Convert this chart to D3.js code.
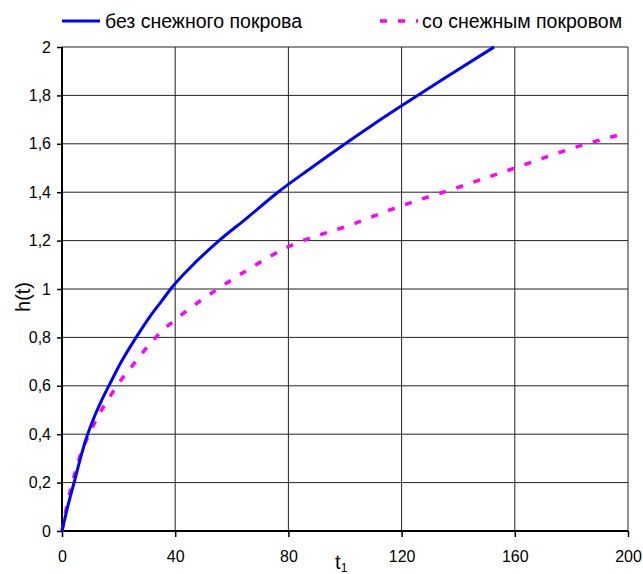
<!DOCTYPE html>
<html>
<head>
<meta charset="utf-8">
<script src="https://cdn.jsdelivr.net/npm/d3@7"></script>
<style>
  body { margin: 0; background: #fff; }
  text { font-family: "Liberation Sans", Arial, sans-serif; fill: #000; }
</style>
</head>
<body>
<svg width="643" height="574"></svg>
<script>
// series: без снежного покрова
var tNoSnow = [0, 2, 4.5, 6.5, 8.5, 11, 14, 17, 21, 26.2, 31, 35.2, 38.4, 45, 55.5, 65, 76.3, 88, 98.8, 110, 120, 135, 152.7];
var hNoSnow = [0, 0.1, 0.21, 0.3, 0.38, 0.46, 0.54, 0.61, 0.7, 0.8, 0.885, 0.95, 1.0, 1.085, 1.2, 1.29, 1.4, 1.5, 1.59, 1.68, 1.757, 1.87, 2.0];

// series: со снежным покровом
var tSnow = [0, 2, 4.6, 7, 10, 13, 16.4, 20, 24, 30.5, 35.2, 40.5, 45.8, 55, 65, 80, 101.8, 120, 140, 160, 185.4, 200];
var hSnow = [0, 0.12, 0.24, 0.33, 0.41, 0.48, 0.545, 0.61, 0.67, 0.765, 0.825, 0.877, 0.925, 1.0, 1.075, 1.175, 1.264, 1.344, 1.42, 1.5, 1.6, 1.646];

var xTicks = [0, 40, 80, 120, 160, 200];
var yTicks = [0, 0.2, 0.4, 0.6, 0.8, 1, 1.2, 1.4, 1.6, 1.8, 2];
var seriesNames = ["без снежного покрова", "со снежным покровом"];

var svg = d3.select("svg"),
    margin = {top: 47, right: 15, bottom: 43, left: 62},
    width = +svg.attr("width") - margin.left - margin.right,
    height = +svg.attr("height") - margin.top - margin.bottom;

var x = d3.scaleLinear().domain([0, 200]).range([0, width]);
var y = d3.scaleLinear().domain([0, 2]).range([height, 0]);

var g = svg.append("g")
    .attr("transform", "translate(" + margin.left + "," + margin.top + ")");

var fmt = function(d) { return String(d).replace(".", ","); };

// grid
g.append("g").selectAll("line")
    .data(yTicks)
    .enter().append("line")
        .attr("x1", 0).attr("x2", width)
        .attr("y1", function(d) { return y(d); })
        .attr("y2", function(d) { return y(d); })
        .attr("stroke", "#222").attr("stroke-width", 1);

g.append("g").selectAll("line")
    .data(xTicks)
    .enter().append("line")
        .attr("y1", 0).attr("y2", height)
        .attr("x1", function(d) { return x(d); })
        .attr("x2", function(d) { return x(d); })
        .attr("stroke", "#222").attr("stroke-width", 1);

// X axis
var xAxis = g.append("g")
    .attr("transform", "translate(0," + height + ")")
    .call(d3.axisBottom(x).tickValues(xTicks).tickSize(6).tickPadding(14).tickFormat(fmt));
xAxis.select(".domain").attr("stroke-width", 2).attr("d", "M0,0H" + width);
xAxis.selectAll(".tick line").attr("stroke-width", 1.5);
xAxis.selectAll("text").style("font-size", "16px");

// Y axis
var yAxis = g.append("g")
    .call(d3.axisLeft(y).tickValues(yTicks).tickSize(5).tickPadding(6).tickFormat(fmt));
yAxis.select(".domain").attr("stroke-width", 2).attr("d", "M0," + height + "V0");
yAxis.selectAll(".tick line").attr("stroke-width", 1.5);
yAxis.selectAll("text").style("font-size", "16px");

// axis titles
g.append("text")
    .attr("transform", "rotate(-90)")
    .attr("x", -y(0.967))
    .attr("y", -margin.left + 30)
    .attr("text-anchor", "middle")
    .style("font-size", "20px")
    .text("h(t)");

var tl = g.append("text")
    .attr("x", x(96.5))
    .attr("y", height + 38)
    .style("font-size", "20px");
tl.append("tspan").text("t");
tl.append("tspan").attr("dy", 3).style("font-size", "12px").text("1");

// lines
var line = d3.line()
    .x(function(d) { return x(d[0]); })
    .y(function(d) { return y(d[1]); })
    .curve(d3.curveMonotoneX);

g.append("path")
    .datum(d3.zip(tSnow, hSnow))
    .attr("fill", "none")
    .attr("stroke", "#ff00ff")
    .attr("stroke-width", 3.5)
    .attr("stroke-dasharray", "7,11")
    .attr("d", line);

g.append("path")
    .datum(d3.zip(tNoSnow, hNoSnow))
    .attr("fill", "none")
    .attr("stroke", "#0000ff")
    .attr("stroke-width", 3)
    .attr("d", line);

// legend
var legend = svg.append("g");
legend.append("line")
    .attr("x1", 62).attr("x2", 100).attr("y1", 21).attr("y2", 21)
    .attr("stroke", "#0000ff").attr("stroke-width", 3);
legend.append("text")
    .attr("x", 105).attr("y", 28)
    .style("font-size", "19.5px")
    .text(seriesNames[0]);
legend.append("line")
    .attr("x1", 380).attr("x2", 418).attr("y1", 21).attr("y2", 21)
    .attr("stroke", "#ff00ff").attr("stroke-width", 3.5)
    .attr("stroke-dasharray", "7,11");
legend.append("text")
    .attr("x", 422).attr("y", 28)
    .style("font-size", "19.5px")
    .text(seriesNames[1]);
</script>
</body>
</html>
